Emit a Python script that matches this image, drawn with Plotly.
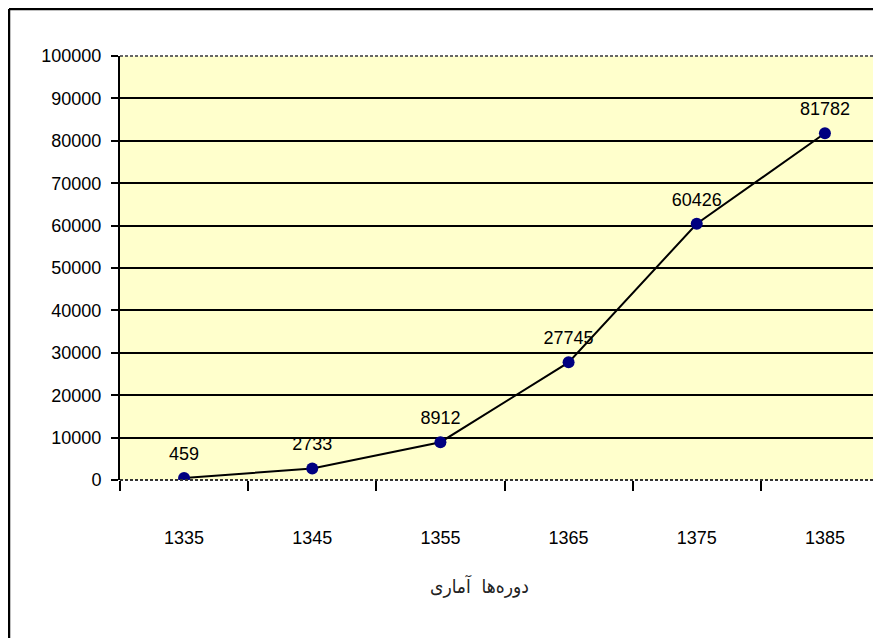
import plotly.graph_objects as go

periods = ["1335", "1345", "1355", "1365", "1375", "1385"]
values = [459, 2733, 8912, 27745, 60426, 81782]
value_labels = ["459", "2733", "8912", "27745", "60426", "81782"]
y_ticks = list(range(0, 100001, 10000))
x_title = "دوره‌ها  آماری"

FONT = "Liberation Sans, Arial, sans-serif"

fig = go.Figure()
fig.add_trace(go.Scatter(
    x=periods, y=values, mode="lines+markers",
    line=dict(color="black", width=2),
    marker=dict(color="#000080", size=12),
    showlegend=False,
))
# data labels (transparent larger marker pushes text a bit higher)
fig.add_trace(go.Scatter(
    x=periods, y=values, mode="markers+text",
    marker=dict(color="rgba(0,0,0,0)", size=20),
    text=value_labels, textposition="top center",
    textfont=dict(family=FONT, size=18, color="black"),
    cliponaxis=False, showlegend=False, hoverinfo="skip",
))
# invisible trace to anchor grid axis
fig.add_trace(go.Scatter(x=periods, y=values, yaxis="y2", mode="markers",
                         marker=dict(opacity=0), showlegend=False, hoverinfo="skip"))

OFF = 8  # page offset in the browser
W, H = 881, 638
L, R, T, B = 112, 0, 48, 166
pw = W - L - R
ph = H - T - B

def px_x(p):
    return (p - OFF - L) / pw

def px_y(p):
    return 1 - (p - OFF - T) / ph

fig.update_layout(
    width=W, height=H,
    margin=dict(l=L, r=R, t=T, b=B, pad=0),
    paper_bgcolor="white", plot_bgcolor="#FFFFCC",
    font=dict(family=FONT, size=18, color="black"),
    xaxis=dict(
        type="category", range=[-0.5, 5.5],
        showgrid=False, showline=False, zeroline=False,
        ticks="outside", tickson="boundaries", ticklen=10, tickwidth=2, tickcolor="black",
        ticklabelstandoff=45,
        tickfont=dict(family=FONT, size=18),
    ),
    yaxis=dict(
        range=[0, 100000], tickvals=y_ticks, ticktext=[str(v) for v in y_ticks],
        showgrid=False, zeroline=False,
        showline=True, linecolor="black", linewidth=2,
        ticks="outside", ticklen=7, tickwidth=2, tickcolor="black",
        ticklabelstandoff=6,
        tickfont=dict(family=FONT, size=18),
    ),
    yaxis2=dict(
        overlaying="y", range=[0, 100000], tickvals=y_ticks[1:-1],
        showticklabels=False, showgrid=True, gridcolor="black", gridwidth=2,
        zeroline=False, showline=False, ticks="",
    ),
    shapes=[
        # plot area dashed border (top, bottom)
        dict(type="line", xref="paper", yref="paper", x0=0, x1=1, y0=1, y1=1,
             line=dict(color="#666666", width=2, dash="3px,2px"), layer="above"),
        dict(type="line", xref="paper", yref="paper", x0=0, x1=1, y0=0, y1=0,
             line=dict(color="#333333", width=2, dash="3px,2px"), layer="above"),
        # outer chart border
        dict(type="line", xref="paper", yref="paper", x0=px_x(9), x1=px_x(9),
             y0=px_y(9), y1=px_y(H + 20), line=dict(color="black", width=2.5)),
        dict(type="line", xref="paper", yref="paper", x0=px_x(9), x1=px_x(W + 20),
             y0=px_y(9), y1=px_y(9), line=dict(color="black", width=2.5)),
    ],
    annotations=[
        dict(text=x_title, xref="paper", yref="paper", x=px_x(479), y=px_y(586),
             showarrow=False, xanchor="center", yanchor="middle",
             font=dict(family="DejaVu Sans Condensed, DejaVu Sans", size=19, color="#222222")),
    ],
)

fig.write_html("out.html")
